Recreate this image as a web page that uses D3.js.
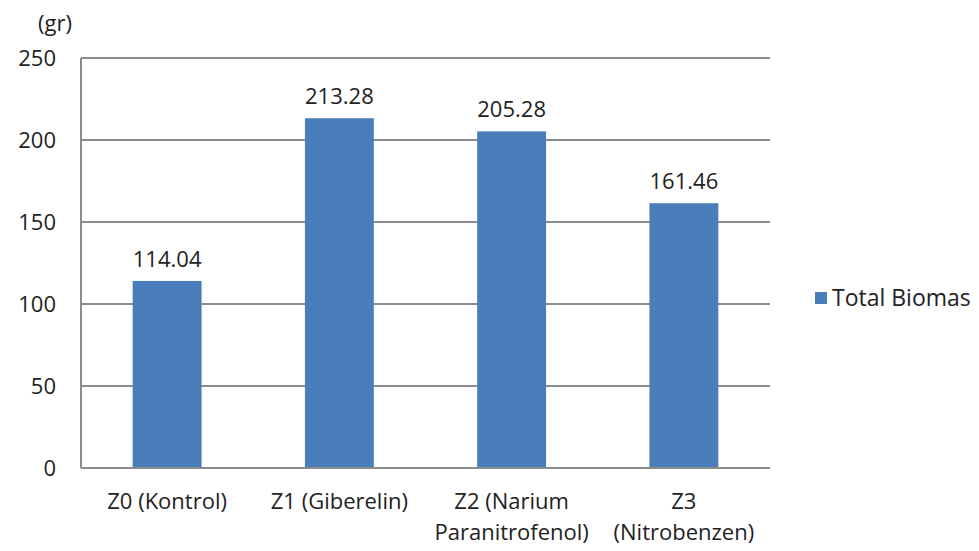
<!DOCTYPE html>
<html><head><meta charset="utf-8">
<script src="https://cdn.jsdelivr.net/npm/d3@7"></script>
<style>body{margin:0;background:#fff;} text{font-family:"Open Sans","Liberation Sans",sans-serif;fill:#222;}</style>
</head><body><svg id="c" width="979" height="551"></svg>
<script>
const categories = [["Z0 (Kontrol)"], ["Z1 (Giberelin)"], ["Z2 (Narium", "Paranitrofenol)"], ["Z3", "(Nitrobenzen)"]];
const values = [114.04, 213.28, 205.28, 161.46];
const yTicks = [0, 50, 100, 150, 200, 250];
const seriesName = "Total Biomas";
const unitLabel = "(gr)";

const svg = d3.select("#c");
const L = 81, R = 770, T = 58, B = 468;
const fs = 22;
const x = d3.scaleBand().domain(d3.range(values.length)).range([L, R]).paddingInner(0.6).paddingOuter(0.3);
const y = d3.scaleLinear().domain([0, 250]).range([B, T]);
const color = "#4a7ebb";

// gridlines
svg.append("g").selectAll("line").data(yTicks).join("line")
  .attr("x1", L).attr("x2", R).attr("y1", d => y(d)).attr("y2", d => y(d))
  .attr("stroke", "#8c8c8c").attr("stroke-width", 2);
// left axis line
svg.append("line").attr("x1", L).attr("x2", L).attr("y1", T).attr("y2", B).attr("stroke", "#8c8c8c").attr("stroke-width", 2);

// y tick labels
svg.append("g").selectAll("text").data(yTicks).join("text")
  .attr("x", 56).attr("y", d => y(d)).attr("dy", "0.35em").attr("text-anchor", "end")
  .attr("font-size", fs).text(d => d);
svg.append("text").attr("x", 55).attr("y", 31).attr("text-anchor", "middle").attr("font-size", fs).text(unitLabel);

// bars
svg.append("g").selectAll("rect").data(values).join("rect")
  .attr("x", (d, i) => x(i)).attr("width", x.bandwidth())
  .attr("y", d => y(d)).attr("height", d => B - y(d)).attr("fill", color);
// bottom axis redraw on top
svg.append("line").attr("x1", L).attr("x2", R).attr("y1", B).attr("y2", B).attr("stroke", "#8c8c8c").attr("stroke-width", 2);

// value labels
svg.append("g").selectAll("text").data(values).join("text")
  .attr("x", (d, i) => x(i) + x.bandwidth() / 2).attr("y", d => y(d) - 14)
  .attr("text-anchor", "middle").attr("font-size", fs).text(d => d.toFixed(2));

// category labels
const cl = svg.append("g").selectAll("text").data(categories).join("text")
  .attr("x", (d, i) => x(i) + x.bandwidth() / 2).attr("y", 509)
  .attr("text-anchor", "middle").attr("font-size", fs);
cl.selectAll("tspan").data(d => d).join("tspan")
  .attr("x", function() { return this.parentNode.getAttribute("x"); })
  .attr("dy", (d, j) => j === 0 ? 0 : 31).text(d => d);

// legend
svg.append("rect").attr("x", 815).attr("y", 292).attr("width", 12).attr("height", 12).attr("fill", color);
svg.append("text").attr("x", 832).attr("y", 306).attr("font-size", fs + 1).text(seriesName);
</script></body></html>
